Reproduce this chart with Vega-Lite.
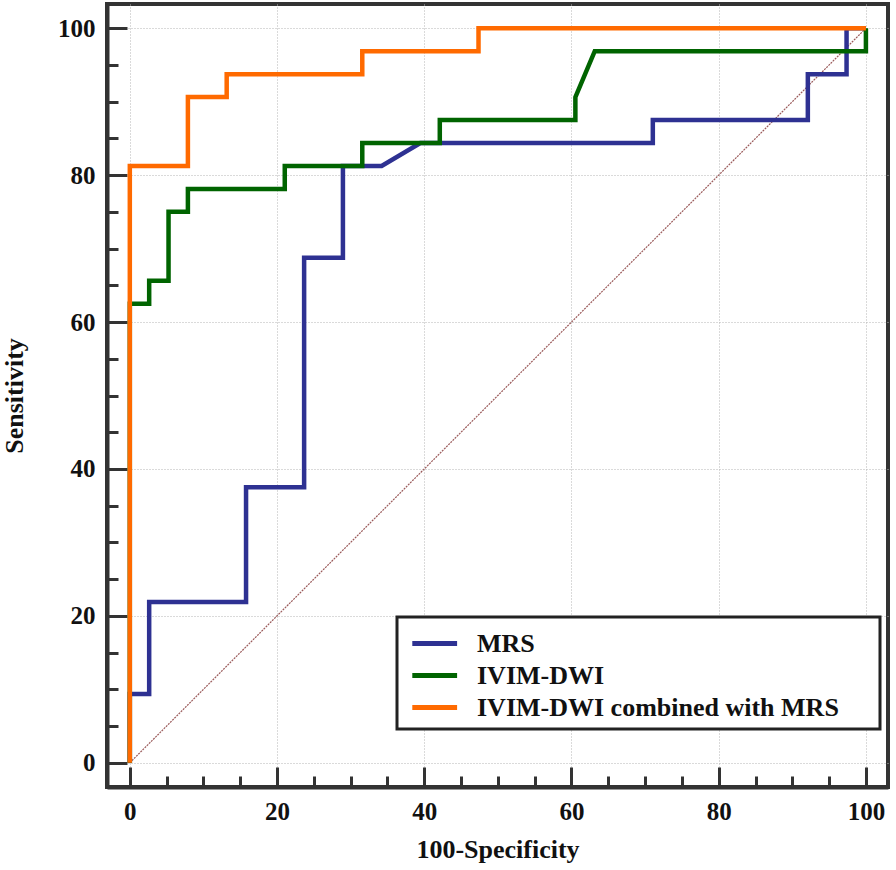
{
  "$schema": "https://vega.github.io/schema/vega-lite/v6.json",
  "width": 781,
  "height": 783,
  "autosize": {"type": "none"},
  "padding": {"left": 107, "top": 4, "right": 8, "bottom": 83},
  "background": "white",
  "config": {
    "view": {"stroke": "#333333", "strokeWidth": 4},
    "font": "Liberation Serif",
    "legend": {"strokeWidth": 3}
  },
  "datasets": {
    "roc": [
      {"series": "MRS", "i": 1, "x": 0, "y": 0},
      {"series": "MRS", "i": 2, "x": 0, "y": 9.375},
      {"series": "MRS", "i": 3, "x": 2.63, "y": 9.375},
      {"series": "MRS", "i": 4, "x": 2.63, "y": 21.875},
      {"series": "MRS", "i": 5, "x": 15.79, "y": 21.875},
      {"series": "MRS", "i": 6, "x": 15.79, "y": 37.5},
      {"series": "MRS", "i": 7, "x": 23.68, "y": 37.5},
      {"series": "MRS", "i": 8, "x": 23.68, "y": 68.75},
      {"series": "MRS", "i": 9, "x": 28.95, "y": 68.75},
      {"series": "MRS", "i": 10, "x": 28.95, "y": 81.25},
      {"series": "MRS", "i": 11, "x": 34.21, "y": 81.25},
      {"series": "MRS", "i": 12, "x": 39.47, "y": 84.375},
      {"series": "MRS", "i": 13, "x": 71.05, "y": 84.375},
      {"series": "MRS", "i": 14, "x": 71.05, "y": 87.5},
      {"series": "MRS", "i": 15, "x": 92.11, "y": 87.5},
      {"series": "MRS", "i": 16, "x": 92.11, "y": 93.75},
      {"series": "MRS", "i": 17, "x": 97.37, "y": 93.75},
      {"series": "MRS", "i": 18, "x": 97.37, "y": 100},
      {"series": "MRS", "i": 19, "x": 100, "y": 100},
      {"series": "IVIM-DWI", "i": 1, "x": 0, "y": 0},
      {"series": "IVIM-DWI", "i": 2, "x": 0, "y": 62.5},
      {"series": "IVIM-DWI", "i": 3, "x": 2.63, "y": 62.5},
      {"series": "IVIM-DWI", "i": 4, "x": 2.63, "y": 65.625},
      {"series": "IVIM-DWI", "i": 5, "x": 5.26, "y": 65.625},
      {"series": "IVIM-DWI", "i": 6, "x": 5.26, "y": 75},
      {"series": "IVIM-DWI", "i": 7, "x": 7.89, "y": 75},
      {"series": "IVIM-DWI", "i": 8, "x": 7.89, "y": 78.125},
      {"series": "IVIM-DWI", "i": 9, "x": 21.05, "y": 78.125},
      {"series": "IVIM-DWI", "i": 10, "x": 21.05, "y": 81.25},
      {"series": "IVIM-DWI", "i": 11, "x": 31.58, "y": 81.25},
      {"series": "IVIM-DWI", "i": 12, "x": 31.58, "y": 84.375},
      {"series": "IVIM-DWI", "i": 13, "x": 42.11, "y": 84.375},
      {"series": "IVIM-DWI", "i": 14, "x": 42.11, "y": 87.5},
      {"series": "IVIM-DWI", "i": 15, "x": 60.53, "y": 87.5},
      {"series": "IVIM-DWI", "i": 16, "x": 60.53, "y": 90.625},
      {"series": "IVIM-DWI", "i": 17, "x": 63.16, "y": 96.875},
      {"series": "IVIM-DWI", "i": 18, "x": 100, "y": 96.875},
      {"series": "IVIM-DWI", "i": 19, "x": 100, "y": 100},
      {"series": "IVIM-DWI combined with MRS", "i": 1, "x": 0, "y": 0},
      {"series": "IVIM-DWI combined with MRS", "i": 2, "x": 0, "y": 81.25},
      {"series": "IVIM-DWI combined with MRS", "i": 3, "x": 7.89, "y": 81.25},
      {"series": "IVIM-DWI combined with MRS", "i": 4, "x": 7.89, "y": 90.625},
      {"series": "IVIM-DWI combined with MRS", "i": 5, "x": 13.16, "y": 90.625},
      {"series": "IVIM-DWI combined with MRS", "i": 6, "x": 13.16, "y": 93.75},
      {"series": "IVIM-DWI combined with MRS", "i": 7, "x": 31.58, "y": 93.75},
      {"series": "IVIM-DWI combined with MRS", "i": 8, "x": 31.58, "y": 96.875},
      {"series": "IVIM-DWI combined with MRS", "i": 9, "x": 47.37, "y": 96.875},
      {"series": "IVIM-DWI combined with MRS", "i": 10, "x": 47.37, "y": 100},
      {"series": "IVIM-DWI combined with MRS", "i": 11, "x": 100, "y": 100}
    ],
    "diag": [
      {"x": 0, "y": 0},
      {"x": 100, "y": 100}
    ]
  },
  "layer": [
    {
      "data": {"name": "diag"},
      "mark": {"type": "line", "color": "#9a5a5a", "strokeWidth": 1.2, "strokeDash": [2, 1]},
      "encoding": {
        "x": {"field": "x", "type": "quantitative", "scale": {"domain": [-3.1, 103], "nice": false, "zero": false},
          "axis": {"title": "100-Specificity", "values": [0,5,10,15,20,25,30,35,40,45,50,55,60,65,70,75,80,85,90,95,100],
            "labelExpr": "datum.value % 20 === 0 ? datum.label : ''",
            "tickSize": {"condition": {"test": "datum.value % 20 === 0", "value": -20}, "value": -11},
            "gridOpacity": {"condition": {"test": "datum.value % 20 === 0", "value": 1}, "value": 0},
            "grid": true, "gridColor": "#b5b5b5", "gridDash": [1, 2], "gridWidth": 1,
            "domainColor": "#333333", "domainWidth": 4, "tickColor": "#333333", "tickWidth": 3,
            "labelFont": "Liberation Serif", "labelFontWeight": "bold", "labelFontSize": 25, "labelColor": "#111111",
            "labelPadding": 32, "labelFlush": false, "labelOverlap": false,
            "titleFont": "Liberation Serif", "titleFontWeight": "bold", "titleFontSize": 26, "titleColor": "#111111",
            "titleX": 390.5, "titleY": 49.5}},
        "y": {"field": "y", "type": "quantitative", "scale": {"domain": [-3.3, 103.3], "nice": false, "zero": false},
          "axis": {"title": "Sensitivity", "values": [0,5,10,15,20,25,30,35,40,45,50,55,60,65,70,75,80,85,90,95,100],
            "labelExpr": "datum.value % 20 === 0 ? datum.label : ''",
            "tickSize": {"condition": {"test": "datum.value % 20 === 0", "value": -20}, "value": -11},
            "gridOpacity": {"condition": {"test": "datum.value % 20 === 0", "value": 1}, "value": 0},
            "grid": true, "gridColor": "#b5b5b5", "gridDash": [1, 2], "gridWidth": 1,
            "domainColor": "#333333", "domainWidth": 4, "tickColor": "#333333", "tickWidth": 3,
            "labelFont": "Liberation Serif", "labelFontWeight": "bold", "labelFontSize": 25, "labelColor": "#111111",
            "labelPadding": 32, "labelFlush": false, "labelOverlap": false,
            "titleFont": "Liberation Serif", "titleFontWeight": "bold", "titleFontSize": 26, "titleColor": "#111111",
            "titleX": -80, "titleY": 391.5}}
      }
    },
    {
      "data": {"name": "roc"},
      "mark": {"type": "line", "strokeWidth": 4.5, "strokeJoin": "miter", "strokeCap": "butt"},
      "encoding": {
        "x": {"field": "x", "type": "quantitative", "scale": {"domain": [-3.1, 103], "nice": false, "zero": false},
          "axis": {"title": "100-Specificity", "values": [0,5,10,15,20,25,30,35,40,45,50,55,60,65,70,75,80,85,90,95,100],
            "labelExpr": "datum.value % 20 === 0 ? datum.label : ''",
            "tickSize": {"condition": {"test": "datum.value % 20 === 0", "value": -20}, "value": -11},
            "gridOpacity": {"condition": {"test": "datum.value % 20 === 0", "value": 1}, "value": 0},
            "grid": true, "gridColor": "#b5b5b5", "gridDash": [1, 2], "gridWidth": 1,
            "domainColor": "#333333", "domainWidth": 4, "tickColor": "#333333", "tickWidth": 3,
            "labelFont": "Liberation Serif", "labelFontWeight": "bold", "labelFontSize": 25, "labelColor": "#111111",
            "labelPadding": 32, "labelFlush": false, "labelOverlap": false,
            "titleFont": "Liberation Serif", "titleFontWeight": "bold", "titleFontSize": 26, "titleColor": "#111111",
            "titleX": 390.5, "titleY": 49.5}},
        "y": {"field": "y", "type": "quantitative", "scale": {"domain": [-3.3, 103.3], "nice": false, "zero": false},
          "axis": {"title": "Sensitivity", "values": [0,5,10,15,20,25,30,35,40,45,50,55,60,65,70,75,80,85,90,95,100],
            "labelExpr": "datum.value % 20 === 0 ? datum.label : ''",
            "tickSize": {"condition": {"test": "datum.value % 20 === 0", "value": -20}, "value": -11},
            "gridOpacity": {"condition": {"test": "datum.value % 20 === 0", "value": 1}, "value": 0},
            "grid": true, "gridColor": "#b5b5b5", "gridDash": [1, 2], "gridWidth": 1,
            "domainColor": "#333333", "domainWidth": 4, "tickColor": "#333333", "tickWidth": 3,
            "labelFont": "Liberation Serif", "labelFontWeight": "bold", "labelFontSize": 25, "labelColor": "#111111",
            "labelPadding": 32, "labelFlush": false, "labelOverlap": false,
            "titleFont": "Liberation Serif", "titleFontWeight": "bold", "titleFontSize": 26, "titleColor": "#111111",
            "titleX": -80, "titleY": 391.5}},
        "color": {"field": "series", "type": "nominal",
          "scale": {"domain": ["MRS", "IVIM-DWI", "IVIM-DWI combined with MRS"], "range": ["#2e3192", "#006400", "#ff6a00"]},
          "legend": {"orient": "none", "legendX": 290, "legendY": 613, "title": null,
            "symbolType": "M-0.7,0H2.1", "symbolStrokeWidth": 5, "symbolSize": 1024,
            "labelFont": "Liberation Serif", "labelFontWeight": "bold", "labelFontSize": 26, "labelColor": "#111111",
            "labelOffset": 35, "labelLimit": 600, "padding": 8, "rowPadding": 0,
            "strokeColor": "#222222", "fillColor": "white",
            "labelExpr": "datum.label + '\u00a0\u00a0\u00a0\u00a0\u00a0\u200b'"}},
        "order": {"field": "i", "type": "quantitative"}
      }
    }
  ]
}
